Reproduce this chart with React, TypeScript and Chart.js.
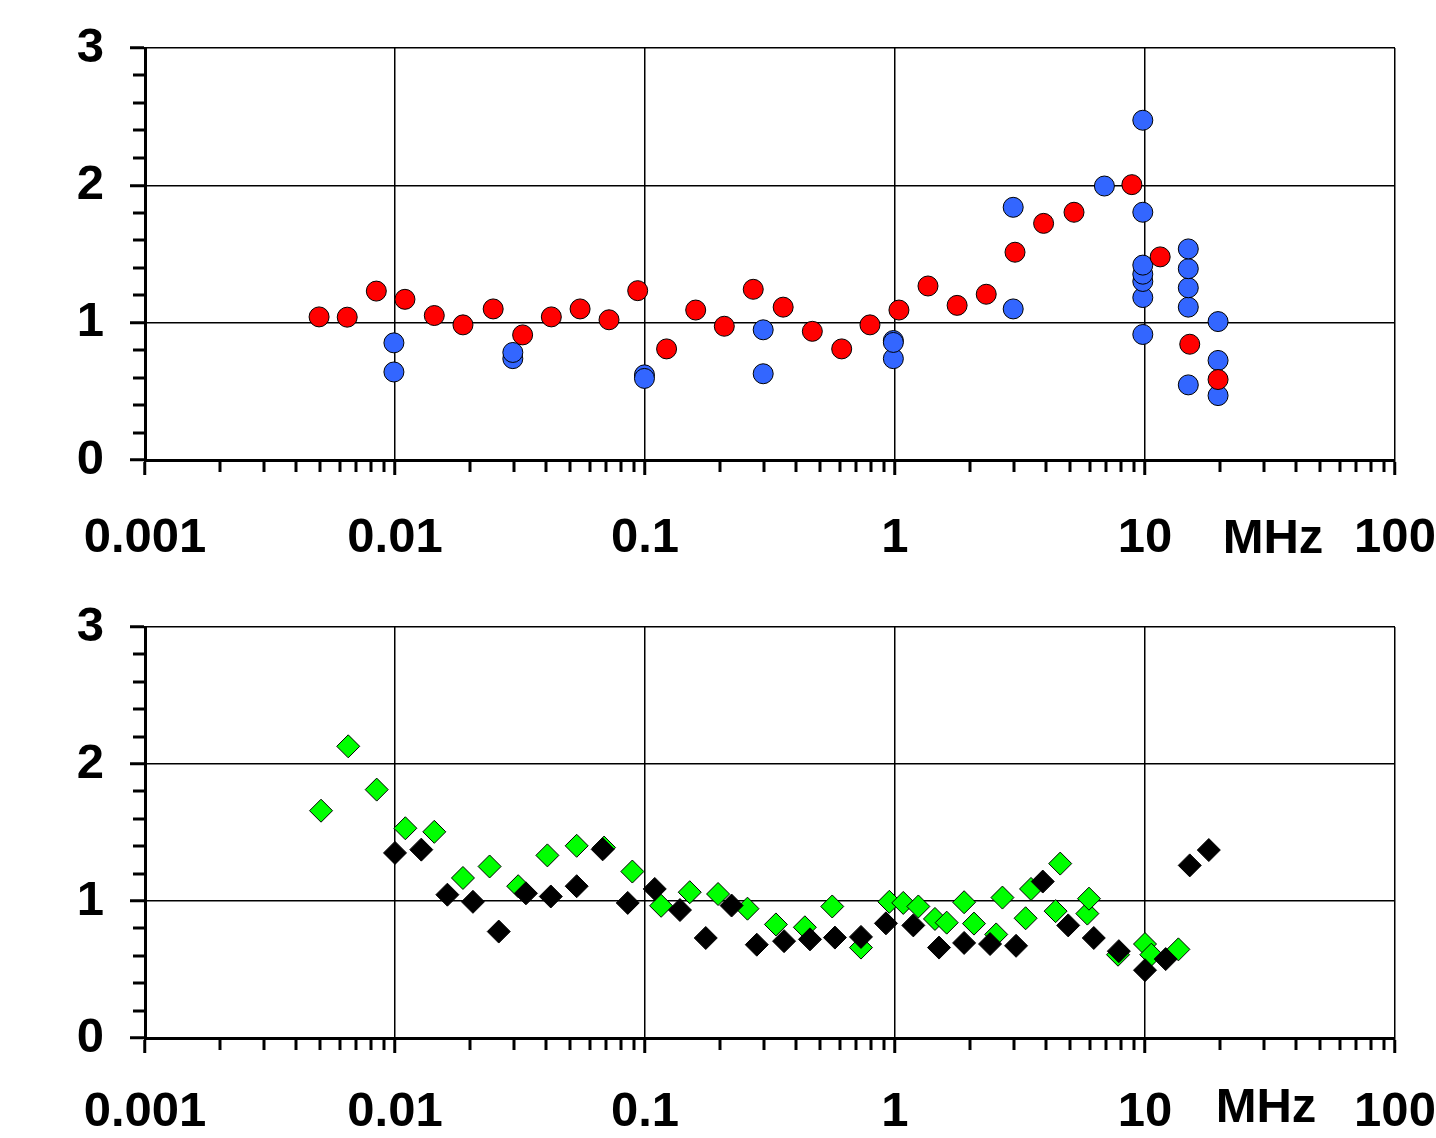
import React, { useEffect, useRef } from 'react';
import { Chart, registerables } from 'chart.js';

Chart.register(...registerables);

// ---------- tick labels ----------
const xTickLabels = ['0.001', '0.01', '0.1', '1', '10', '100'];
const yTickLabels = ['0', '1', '2', '3'];
const unitLabel = 'MHz';

// ---------- top panel ----------
const redFreq = [0.00497, 0.00644, 0.00842, 0.01096, 0.01436, 0.0187, 0.0247, 0.0324, 0.0422, 0.055, 0.0718, 0.0935, 0.122, 0.1595, 0.2076, 0.271, 0.357, 0.467, 0.612, 0.794, 1.037, 1.355, 1.772, 2.317, 3.02, 3.93, 5.2, 8.86, 11.5, 15.1, 19.6];
const redVal = [1.042, 1.04, 1.23, 1.17, 1.052, 0.984, 1.1, 0.911, 1.042, 1.1, 1.021, 1.233, 0.809, 1.092, 0.974, 1.243, 1.113, 0.937, 0.809, 0.984, 1.092, 1.267, 1.126, 1.207, 1.513, 1.723, 1.804, 2.005, 1.479, 0.843, 0.586];

const blueFreq = [0.0099, 0.0099, 0.0296, 0.0296, 0.0995, 0.0995, 0.297, 0.297, 0.985, 0.985, 0.985, 2.97, 2.97, 6.88, 9.8, 9.8, 9.8, 9.8, 9.8, 9.8, 9.8, 14.9, 14.9, 14.9, 14.9, 14.9, 19.6, 19.6, 19.6];
const blueVal = [0.853, 0.641, 0.738, 0.783, 0.62, 0.594, 0.948, 0.628, 0.738, 0.87, 0.856, 1.84, 1.1, 1.995, 2.474, 1.804, 0.914, 1.183, 1.3, 1.353, 1.419, 0.547, 1.113, 1.254, 1.393, 1.537, 1.008, 0.725, 0.469];

// ---------- bottom panel ----------
const greenFreq = [0.00506, 0.0065, 0.00845, 0.011, 0.01436, 0.0187, 0.0239, 0.0311, 0.0407, 0.0533, 0.0686, 0.089, 0.116, 0.151, 0.196, 0.257, 0.334, 0.436, 0.561, 0.731, 0.949, 1.079, 1.24, 1.445, 1.61, 1.89, 2.07, 2.54, 2.69, 3.33, 3.5, 4.39, 4.58, 5.88, 5.97, 7.8, 10, 10.6, 13.6];
const greenVal = [1.659, 2.129, 1.813, 1.531, 1.505, 1.168, 1.252, 1.108, 1.333, 1.403, 1.39, 1.215, 0.965, 1.064, 1.051, 0.944, 0.829, 0.808, 0.96, 0.66, 0.994, 0.986, 0.96, 0.869, 0.842, 0.991, 0.835, 0.756, 1.025, 0.874, 1.088, 0.926, 1.273, 0.908, 1.017, 0.608, 0.686, 0.608, 0.647];

const blackFreq = [0.01, 0.01274, 0.0162, 0.0205, 0.026, 0.0334, 0.042, 0.0533, 0.0677, 0.0853, 0.1094, 0.138, 0.175, 0.222, 0.28, 0.36, 0.457, 0.575, 0.731, 0.92, 1.184, 1.5, 1.89, 2.4, 3.05, 3.9, 4.93, 6.24, 7.86, 10, 12.1, 15.1, 18.0];
const blackVal = [1.351, 1.375, 1.046, 0.994, 0.777, 1.056, 1.033, 1.108, 1.377, 0.986, 1.088, 0.934, 0.73, 0.967, 0.681, 0.707, 0.72, 0.733, 0.738, 0.837, 0.822, 0.66, 0.694, 0.686, 0.673, 1.142, 0.822, 0.73, 0.634, 0.495, 0.576, 1.26, 1.372];

const FONT = "'Liberation Sans', Arial, sans-serif";
const FONT_SIZE = 49;

const xTickValues: number[] = [];
for (let d = -3; d <= 1; d++) {
  for (let m = 1; m <= 9; m++) xTickValues.push(m * Math.pow(10, d));
}
xTickValues.push(100);
const yTickValues: number[] = [];
for (let i = 0; i <= 15; i++) yTickValues.push(i / 5);

const isMajorX = (v: number) => {
  const l = Math.log10(v);
  return Math.abs(l - Math.round(l)) < 1e-6;
};
const isMajorY = (v: number) => Math.abs(v - Math.round(v)) < 1e-6;

const toPts = (xs: number[], ys: number[]) => xs.map((x, i) => ({ x, y: ys[i] }));

const minorTicksPlugin = {
  id: 'minorTicks',
  afterDraw(chart: any) {
    const { ctx, chartArea, scales } = chart;
    const o = chart.options.plugins.minorTicks || {};
    ctx.save();
    ctx.strokeStyle = '#000';
    ctx.lineWidth = 3;
    scales.x.ticks.forEach((t: any) => {
      if (!isMajorX(t.value)) {
        const x = Math.round(scales.x.getPixelForValue(t.value));
        ctx.beginPath();
        ctx.moveTo(x, chartArea.bottom);
        ctx.lineTo(x, chartArea.bottom + 12);
        ctx.stroke();
      }
    });
    scales.y.ticks.forEach((t: any) => {
      if (!isMajorY(t.value)) {
        const y = Math.round(scales.y.getPixelForValue(t.value));
        ctx.beginPath();
        ctx.moveTo(chartArea.left - 12, y);
        ctx.lineTo(chartArea.left, y);
        ctx.stroke();
      }
    });
    ctx.fillStyle = '#000';
    ctx.font = `bold ${FONT_SIZE}px ${FONT}`;
    ctx.textAlign = 'center';
    ctx.textBaseline = 'middle';
    ctx.fillText(unitLabel, chartArea.right + (o.unitDx ?? -122), chartArea.bottom + (o.unitDy ?? 79));
    ctx.restore();
  },
};

function makeConfig(datasets: any[], xAxisHeight: number, padTop: number, xPad: number, unitDx: number, unitDy: number) {
  return {
    type: 'scatter',
    data: { datasets },
    plugins: [minorTicksPlugin],
    options: {
      responsive: false,
      animation: false,
      devicePixelRatio: 1,
      layout: { autoPadding: false, padding: { top: padTop, right: 41, left: 0, bottom: 0 } },
      plugins: {
        legend: { display: false },
        tooltip: { enabled: false },
        minorTicks: { unitDx, unitDy },
      },
      scales: {
        x: {
          type: 'logarithmic',
          min: 0.001,
          max: 100,
          afterBuildTicks: (scale: any) => {
            scale.ticks = xTickValues.map((value) => ({ value }));
          },
          afterFit: (scale: any) => {
            scale.height = xAxisHeight;
            scale.paddingLeft = 0;
            scale.paddingRight = 0;
          },
          border: { display: true, color: '#000', width: 3 },
          grid: {
            color: (c: any) => (c.tick && isMajorX(c.tick.value) ? '#000' : 'rgba(0,0,0,0)'),
            lineWidth: 1.5,
            tickColor: (c: any) => (c.tick && isMajorX(c.tick.value) ? '#000' : 'rgba(0,0,0,0)'),
            tickWidth: 3,
            tickLength: 15,
          },
          ticks: {
            autoSkip: false,
            maxRotation: 0,
            minRotation: 0,
            padding: xPad,
            color: '#000',
            font: { family: FONT, size: FONT_SIZE, weight: 'bold' },
            callback: (v: number) => (isMajorX(v) ? xTickLabels[Math.round(Math.log10(v)) + 3] : ''),
          },
        },
        y: {
          type: 'linear',
          min: 0,
          max: 3,
          afterBuildTicks: (scale: any) => {
            scale.ticks = yTickValues.map((value) => ({ value }));
          },
          afterFit: (scale: any) => {
            scale.width = 145;
            scale.paddingTop = 0;
            scale.paddingBottom = 0;
          },
          border: { display: true, color: '#000', width: 3 },
          grid: {
            color: (c: any) => (c.tick && isMajorY(c.tick.value) ? '#000' : 'rgba(0,0,0,0)'),
            lineWidth: 1.5,
            tickColor: (c: any) => (c.tick && isMajorY(c.tick.value) ? '#000' : 'rgba(0,0,0,0)'),
            tickWidth: 3,
            tickLength: 15,
          },
          ticks: {
            autoSkip: false,
            padding: 26,
            color: '#000',
            font: { family: FONT, size: FONT_SIZE, weight: 'bold' },
            callback: (v: number) => (isMajorY(v) ? yTickLabels[Math.round(v)] : ''),
          },
        },
      },
    },
  };
}

function Panel({ top, height, config }: { top: number; height: number; config: any }) {
  const ref = useRef<HTMLCanvasElement | null>(null);
  useEffect(() => {
    if (!ref.current) return;
    const chart = new Chart(ref.current, config);
    return () => chart.destroy();
  }, []);
  return (
    <canvas
      ref={ref}
      width={1436}
      height={height}
      style={{ position: 'absolute', left: 0, top, width: 1436, height }}
    />
  );
}

export default function App() {
  const topDatasets = [
    {
      label: 'red',
      data: toPts(redFreq, redVal),
      pointStyle: 'circle',
      pointRadius: 10,
      backgroundColor: '#FF0000',
      borderColor: '#000',
      borderWidth: 1,
      showLine: false,
    },
    {
      label: 'blue',
      data: toPts(blueFreq, blueVal),
      pointStyle: 'circle',
      pointRadius: 10,
      backgroundColor: '#3366FF',
      borderColor: '#000',
      borderWidth: 1,
      showLine: false,
    },
  ];
  const bottomDatasets = [
    {
      label: 'black',
      data: toPts(blackFreq, blackVal),
      pointStyle: 'rectRot',
      pointRadius: 11.5,
      backgroundColor: '#000',
      borderColor: '#000',
      borderWidth: 1,
      showLine: false,
    },
    {
      label: 'green',
      data: toPts(greenFreq, greenVal),
      pointStyle: 'rectRot',
      pointRadius: 11.5,
      backgroundColor: '#00FF00',
      borderColor: '#000',
      borderWidth: 1,
      showLine: false,
    },
  ];
  const topCfg = makeConfig(topDatasets, 120, 48, 34, -122, 79);
  const bottomCfg = makeConfig(bottomDatasets, 100, 47, 30, -129, 70);
  return (
    <div style={{ position: 'absolute', left: 0, top: 0, width: 1436, height: 1138, background: '#fff', overflow: 'hidden' }}>
      <Panel top={0} height={580} config={topCfg} />
      <Panel top={580} height={558} config={bottomCfg} />
    </div>
  );
}
